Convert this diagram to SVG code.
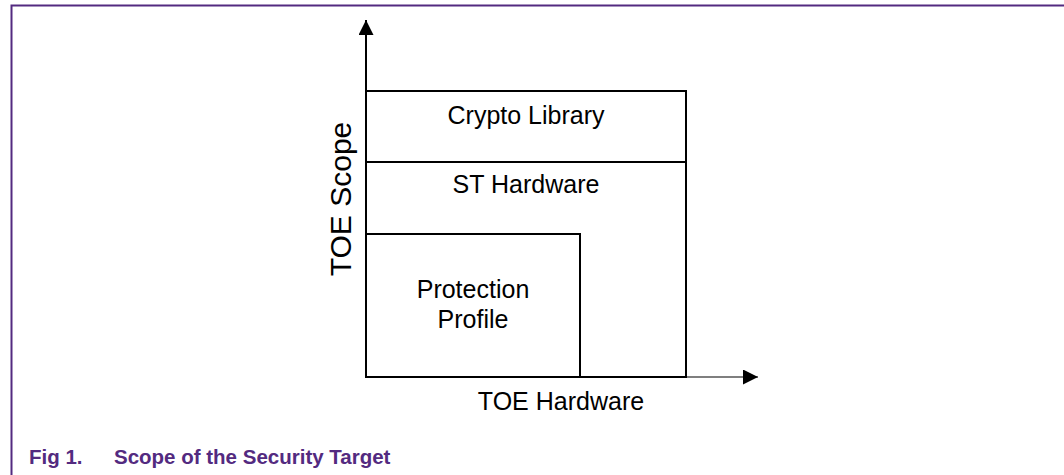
<svg xmlns="http://www.w3.org/2000/svg" width="1064" height="475" viewBox="0 0 1064 475">
<defs>
<style>
.lbl{font-family:"Liberation Sans",Arial,sans-serif;font-size:25px;fill:#000;text-anchor:middle}
.box{fill:none;stroke:#000;stroke-width:2}
.cap{font-family:"Liberation Sans",Arial,sans-serif;font-size:20.5px;font-weight:bold;fill:#532a80}
</style>
<marker id="ah" viewBox="0 0 10 10" refX="10" refY="5" markerWidth="15" markerHeight="15" markerUnits="userSpaceOnUse" orient="auto">
<path d="M0,0 L10,5 L0,10 Z" fill="#000"/>
</marker>
</defs>
<rect width="1064" height="475" fill="#fff"/>
<path d="M11.5,475 V5.5 H1064" fill="none" stroke="#532a80" stroke-width="2"/>
<g id="connectors">
<line x1="366" y1="378" x2="366" y2="20" stroke="#000" stroke-width="2" marker-end="url(#ah)"/>
<line x1="686" y1="377" x2="758" y2="377" stroke="#000" stroke-width="1.2" marker-end="url(#ah)"/>
</g>
<g id="crypto-library">
<rect class="box" x="366" y="91" width="320" height="71"/>
<text class="lbl" x="526" y="124">Crypto Library</text>
</g>
<g id="st-hardware">
<rect class="box" x="366" y="162" width="320" height="215"/>
<text class="lbl" x="526" y="193">ST Hardware</text>
</g>
<g id="protection-profile">
<rect class="box" x="366" y="234" width="214" height="143"/>
<text class="lbl" x="473" y="298">Protection</text>
<text class="lbl" x="473" y="328">Profile</text>
</g>
<g id="axis-labels">
<text class="lbl" x="561" y="410">TOE Hardware</text>
<text class="lbl" style="font-size:30px" transform="translate(351,199) rotate(-90)">TOE Scope</text>
</g>
<text class="cap" x="29" y="464">Fig 1.</text>
<text class="cap" x="114" y="464">Scope of the Security Target</text>
</svg>
